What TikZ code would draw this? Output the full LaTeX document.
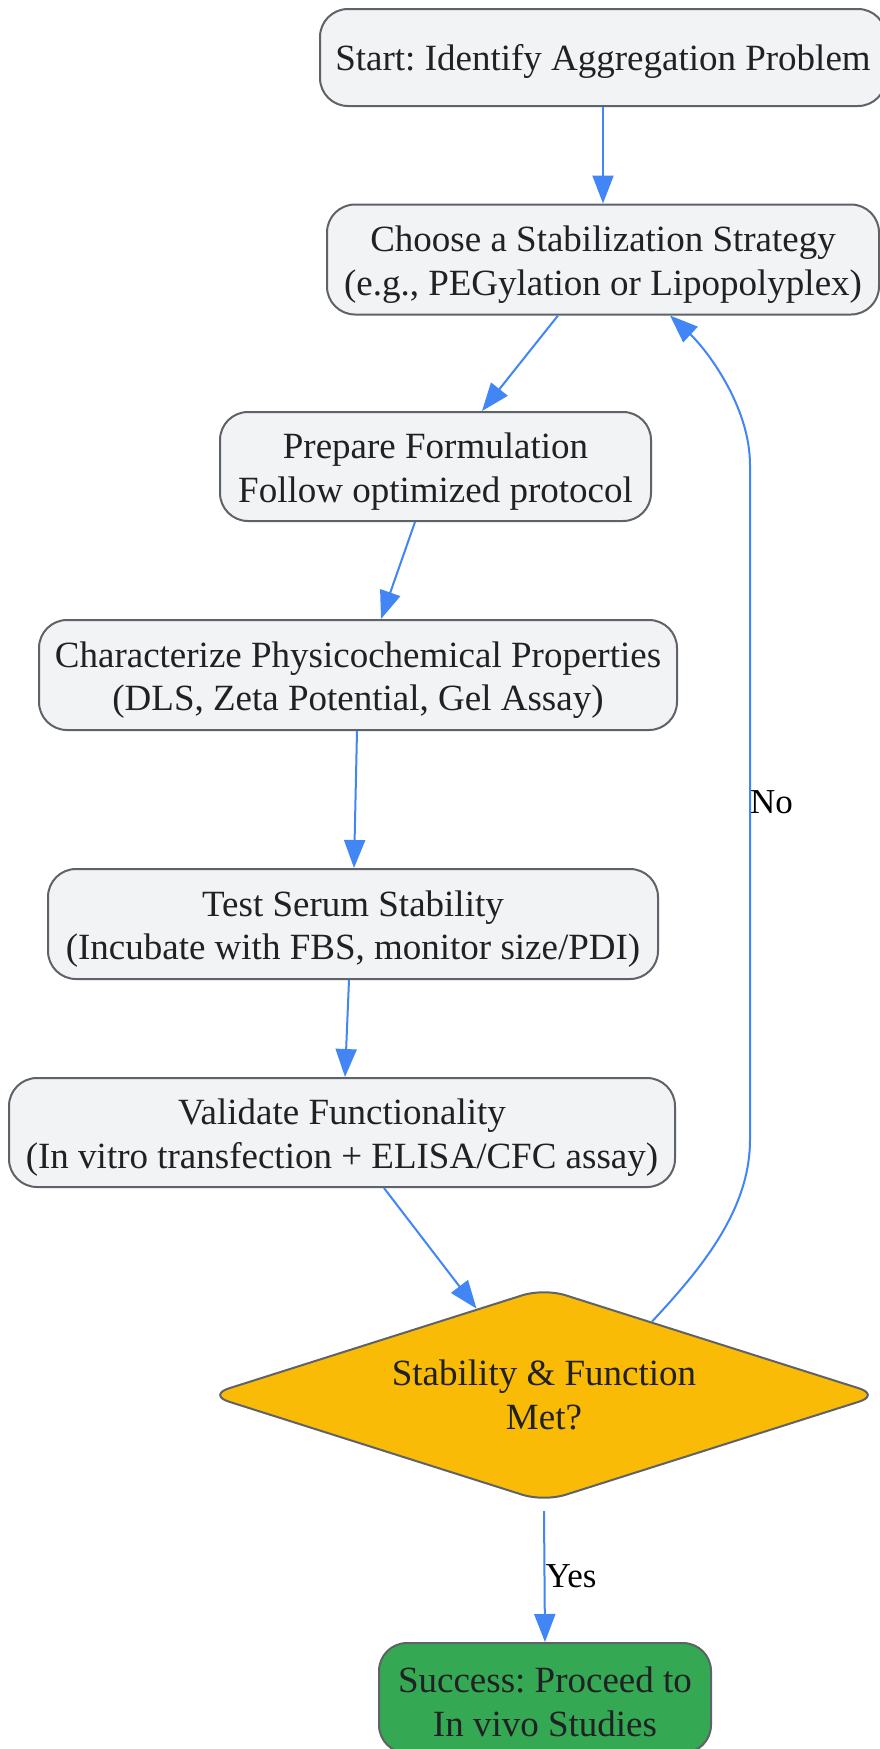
\documentclass[tikz,border=0pt]{standalone}
\usepackage{fontspec}
\setmainfont{Liberation Serif}
\usetikzlibrary{shapes.geometric,arrows.meta,calc}
\definecolor{boxfill}{HTML}{F1F3F4}
\definecolor{boxline}{HTML}{5F6368}
\definecolor{txt}{HTML}{202124}
\definecolor{decfill}{HTML}{F9BB06}
\definecolor{okfill}{HTML}{34A853}
\definecolor{flow}{HTML}{4285F4}
\newcommand{\lowtxt}[2][5.5pt]{\raisebox{-#1}[\height][\depth]{\begin{tabular}{@{}c@{}}#2\end{tabular}}}
\tikzset{
  stepbox/.style={draw=boxline, line width=2pt, fill=boxfill, rounded corners=28pt,
    text=txt, inner sep=0pt, font=\fontsize{37}{43.5}\selectfont\frenchspacing},
  decbox/.style={diamond, draw=boxline, line width=2pt, fill=decfill, rounded corners=22pt,
    text=txt, inner sep=0pt, minimum width=673pt, minimum height=214pt,
    aspect=3.15, font=\fontsize{37}{43.5}\selectfont\frenchspacing},
  conn/.style={draw=flow, line width=2pt, -{Triangle[length=28pt,width=21pt]}},
  lbl/.style={anchor=west, inner sep=0pt, text=black, font=\fontsize{35}{40}\selectfont}
}
\begin{document}
\begin{tikzpicture}[x=1pt,y=-1pt]
\useasboundingbox[fill=white] (0,0) rectangle (879,1749);
\node[stepbox, minimum width=566pt, minimum height=97pt] (start) at (603,57.5) {\lowtxt[4.5pt]{Start: Identify Aggregation Problem}};
\node[stepbox, minimum width=552pt, minimum height=110pt] (choose) at (603,259.5) {\lowtxt{Choose a Stabilization Strategy\\(e.g., PEGylation or Lipopolyplex)}};
\node[stepbox, minimum width=431pt, minimum height=109pt] (prep) at (435.5,466.5) {\lowtxt{Prepare Formulation\\Follow optimized protocol}};
\node[stepbox, minimum width=638pt, minimum height=110pt] (char) at (358,675) {\lowtxt{Characterize Physicochemical Properties\\(DLS, Zeta Potential, Gel Assay)}};
\node[stepbox, minimum width=610pt, minimum height=110pt] (serum) at (353,924) {\lowtxt{Test Serum Stability\\(Incubate with FBS, monitor size/PDI)}};
\node[stepbox, minimum width=666pt, minimum height=109pt] (valid) at (342,1132.5) {\lowtxt{Validate Functionality\\(In vitro transfection + ELISA/CFC assay)}};
\node[decbox] (dec) at (544,1395) {\lowtxt[4pt]{Stability \& Function\\Met?}};
\node[stepbox, fill=okfill, minimum width=332pt, minimum height=110pt] (succ) at (545,1698) {\lowtxt[8pt]{Success: Proceed to\\In vivo Studies}};

\draw[conn] (start.south) -- (choose.north);
\draw[conn] ([xshift=-45pt]choose.south) -- ([xshift=46.5pt]prep.north);
\draw[conn] ([xshift=-20.5pt]prep.south) -- ([xshift=23pt]char.north);
\draw[conn] ([xshift=-1pt]char.south) -- ([xshift=1pt]serum.north);
\draw[conn] ([xshift=-4pt]serum.south) -- ([xshift=3pt]valid.north);
\draw[conn] ([xshift=42pt]valid.south) -- ($(dec.north)!0.2!(dec.west)$);
\draw[conn] ([yshift=-8pt]dec.south) -- (succ.north) node[pos=0.5, lbl] (yes) {Yes};
\coordinate (nobot) at (750,1140);
\coordinate (notop) at (750,465);
\draw[conn] ($(dec.north)!0.32!(dec.east)$) .. controls (698,1272) and (750,1212) .. (nobot)
  -- (notop) node[pos=0.5, lbl, xshift=-1pt] (no) {No} .. controls (750,405) and (705,348) .. ([xshift=67pt]choose.south);
\end{tikzpicture}
\end{document}
